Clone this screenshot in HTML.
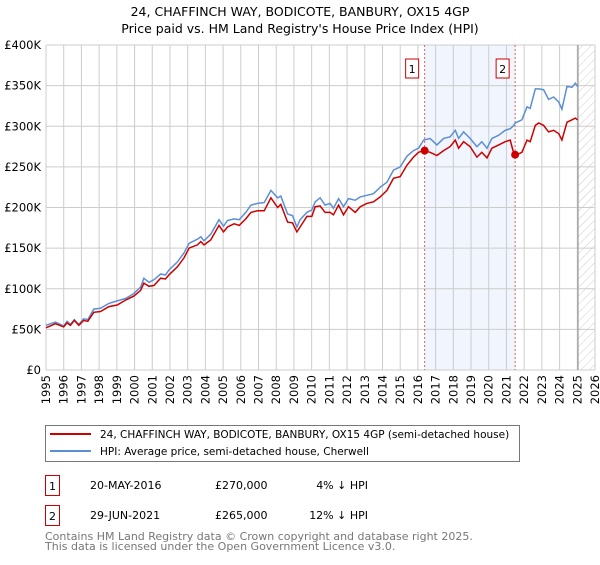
<!DOCTYPE html>
<html><head><meta charset="utf-8"><style>
body{margin:0;background:#fff;font-family:"Liberation Sans","DejaVu Sans",sans-serif;}
svg text{font-family:"DejaVu Sans","Liberation Sans",sans-serif;}
</style></head><body>
<svg id="chart" width="600" height="560" viewBox="0 0 600 560" xmlns="http://www.w3.org/2000/svg">
<defs><pattern id="hatch" width="6" height="6" patternUnits="userSpaceOnUse" patternTransform="rotate(45)"><line x1="0" y1="0" x2="0" y2="6" stroke="#ccc" stroke-width="1"/></pattern></defs>
<text x="300" y="16" text-anchor="middle" font-size="12.5" fill="#000">24, CHAFFINCH WAY, BODICOTE, BANBURY, OX15 4GP</text>
<text x="300" y="33" text-anchor="middle" font-size="12.5" fill="#000">Price paid vs. HM Land Registry's House Price Index (HPI)</text>
<g id="grid"></g><g id="marks"></g><g id="axes"></g>
<rect x="45.5" y="425.5" width="474" height="36" fill="#fff" stroke="#777"/>
<line x1="50" y1="434" x2="91" y2="434" stroke="#cc0000" stroke-width="2"/>
<text x="100" y="438" font-size="10.5">24, CHAFFINCH WAY, BODICOTE, BANBURY, OX15 4GP (semi-detached house)</text>
<line x1="50" y1="451" x2="91" y2="451" stroke="#5b8fd4" stroke-width="2"/>
<text x="100" y="455" font-size="10.5">HPI: Average price, semi-detached house, Cherwell</text>
<g>
<rect x="45.5" y="475.5" width="14" height="20" fill="#fff" stroke="#c00"/><text x="52.5" y="490" text-anchor="middle" font-size="11">1</text>
<text x="90" y="489" font-size="11">20-MAY-2016</text><text x="215" y="489" font-size="11">£270,000</text><text x="368" y="489" font-size="11" text-anchor="end">4% ↓ HPI</text></g>
<g>
<rect x="45.5" y="505.5" width="14" height="20" fill="#fff" stroke="#c00"/><text x="52.5" y="520" text-anchor="middle" font-size="11">2</text>
<text x="90" y="519" font-size="11">29-JUN-2021</text><text x="215" y="519" font-size="11">£265,000</text><text x="368" y="519" font-size="11" text-anchor="end">12% ↓ HPI</text></g>
<text x="45" y="540" font-size="11" fill="#777">Contains HM Land Registry data © Crown copyright and database right 2025.</text>
<text x="45" y="550" font-size="11" fill="#777">This data is licensed under the Open Government Licence v3.0.</text>
</svg>
<script>
const yTicks=[0,50,100,150,200,250,300,350,400];
const yTickLabels=["£0","£50K","£100K","£150K","£200K","£250K","£300K","£350K","£400K"];
const xYears=[1995,1996,1997,1998,1999,2000,2001,2002,2003,2004,2005,2006,2007,2008,2009,2010,2011,2012,2013,2014,2015,2016,2017,2018,2019,2020,2021,2022,2023,2024,2025,2026];
const dates=[1995.00,1995.53,1996.00,1996.19,1996.38,1996.60,1996.85,1997.13,1997.36,1997.70,1998.08,1998.55,1999.02,1999.49,1999.96,2000.34,2000.53,2000.81,2001.09,2001.47,2001.75,2001.94,2002.42,2002.79,2003.08,2003.55,2003.74,2003.92,2004.30,2004.77,2005.02,2005.25,2005.62,2005.91,2006.28,2006.57,2006.94,2007.32,2007.70,2008.08,2008.26,2008.64,2008.92,2009.17,2009.35,2009.73,2010.01,2010.20,2010.48,2010.76,2011.04,2011.23,2011.52,2011.80,2012.08,2012.46,2012.74,2013.12,2013.49,2013.87,2014.25,2014.62,2015.00,2015.38,2015.75,2016.04,2016.32,2016.69,2017.07,2017.45,2017.82,2018.11,2018.30,2018.58,2018.95,2019.33,2019.61,2019.90,2020.18,2020.56,2020.93,2021.21,2021.37,2021.50,2021.87,2022.16,2022.34,2022.63,2022.82,2023.10,2023.38,2023.66,2023.95,2024.13,2024.42,2024.70,2024.89,2025.02];
const hpi=[55,59,54,60,56,62,56,63,62,75,76,82,85,88,94,102,113,108,111,118,117,123,133,144,156,161,164,159,167,185,177,184,186,185,194,203,205,206,221,212,214,192,190,176,185,194,197,207,212,203,205,199,211,201,211,209,213,215,217,225,231,246,250,263,270,273,283,285,277,285,287,295,285,293,285,275,281,273,285,289,295,297,300,304,308,324,322,346,346,345,333,336,330,321,349,348,353,349];
const paid=[52,57,53,58,55,61,55,61,60,71,72,78,80,86,91,98,107,103,104,113,112,117,127,138,150,154,158,154,160,178,170,176,180,178,186,194,196,196,212,200,204,182,181,170,176,189,189,201,202,194,194,191,203,191,201,194,201,205,207,213,221,236,238,252,262,268,270,268,264,270,275,283,273,281,275,262,268,261,273,277,281,283,270,264,268,283,281,301,304,301,293,295,291,283,305,308,310,308];
const saleDates=[2016.38,2021.49];
const salePrices=[270,265];
const saleLabels=["1","2"];
const dataEnd=2025.04;
const X0=46,X1=595,Y0=370,Y1=45;
const xs=y=>X0+(y-1995)/(2026-1995)*(X1-X0);
const ys=v=>Y0-v/400*(Y0-Y1);
const NS="http://www.w3.org/2000/svg";
function mk(tag,attrs,parent){const e=document.createElementNS(NS,tag);for(const k in attrs)e.setAttribute(k,attrs[k]);parent.appendChild(e);return e;}
const grid=document.getElementById('grid'),marks=document.getElementById('marks'),axes=document.getElementById('axes');
let r=mk('rect',{x:xs(saleDates[0]),y:Y1,width:xs(saleDates[1])-xs(saleDates[0]),height:Y0-Y1,fill:'#eef3fc',opacity:0.8},grid);


xYears.forEach(yr=>{const l=mk('line',{x1:xs(yr),x2:xs(yr),y1:Y1,y2:Y0,stroke:'#ccc','stroke-width':1},grid);


const t=mk('text',{x:0,y:0,'font-size':11.5,'text-anchor':'end',transform:`translate(${xs(yr)+4},${Y0+5}) rotate(-90)`},axes);t.textContent=yr;

});
yTicks.forEach((v,i)=>{const l=mk('line',{x1:X0,x2:X1,y1:ys(v),y2:ys(v),stroke:'#ccc','stroke-width':1},grid);


const t=mk('text',{x:41,y:ys(v)+4,'font-size':11.5,'text-anchor':'end'},axes);t.textContent=yTickLabels[i];

});
const h=mk('rect',{x:xs(dataEnd),y:Y1,width:X1-xs(dataEnd),height:Y0-Y1,fill:'url(#hatch)'},grid);


const el=mk('line',{x1:xs(dataEnd),x2:xs(dataEnd),y1:Y1,y2:Y0,stroke:'#999','stroke-width':1.2},grid);


saleDates.forEach((d,i)=>{const l=mk('line',{x1:xs(d),x2:xs(d),y1:Y1,y2:Y0,stroke:'#e06060','stroke-width':1,'stroke-dasharray':'2,2'},marks);


const b=mk('rect',{x:xs(d)-19,y:59,width:13,height:19,fill:'#fff',stroke:'#c00'},marks);


const t=mk('text',{x:xs(d)-12.5,y:73,'font-size':11,'text-anchor':'middle'},marks);t.textContent=saleLabels[i];

});
const pts=a=>a.map((v,i)=>xs(dates[i]).toFixed(1)+','+ys(v).toFixed(1)).join(' ');
const pb=mk('polyline',{points:pts(hpi),fill:'none',stroke:'#5b8fd4','stroke-width':1.5},marks);


const pr=mk('polyline',{points:pts(paid),fill:'none',stroke:'#cc0000','stroke-width':1.5},marks);


saleDates.forEach((d,i)=>{const c=mk('circle',{cx:xs(d),cy:ys(salePrices[i]),r:4,fill:'#cc0000'},marks);

});
</script>
</body></html>
